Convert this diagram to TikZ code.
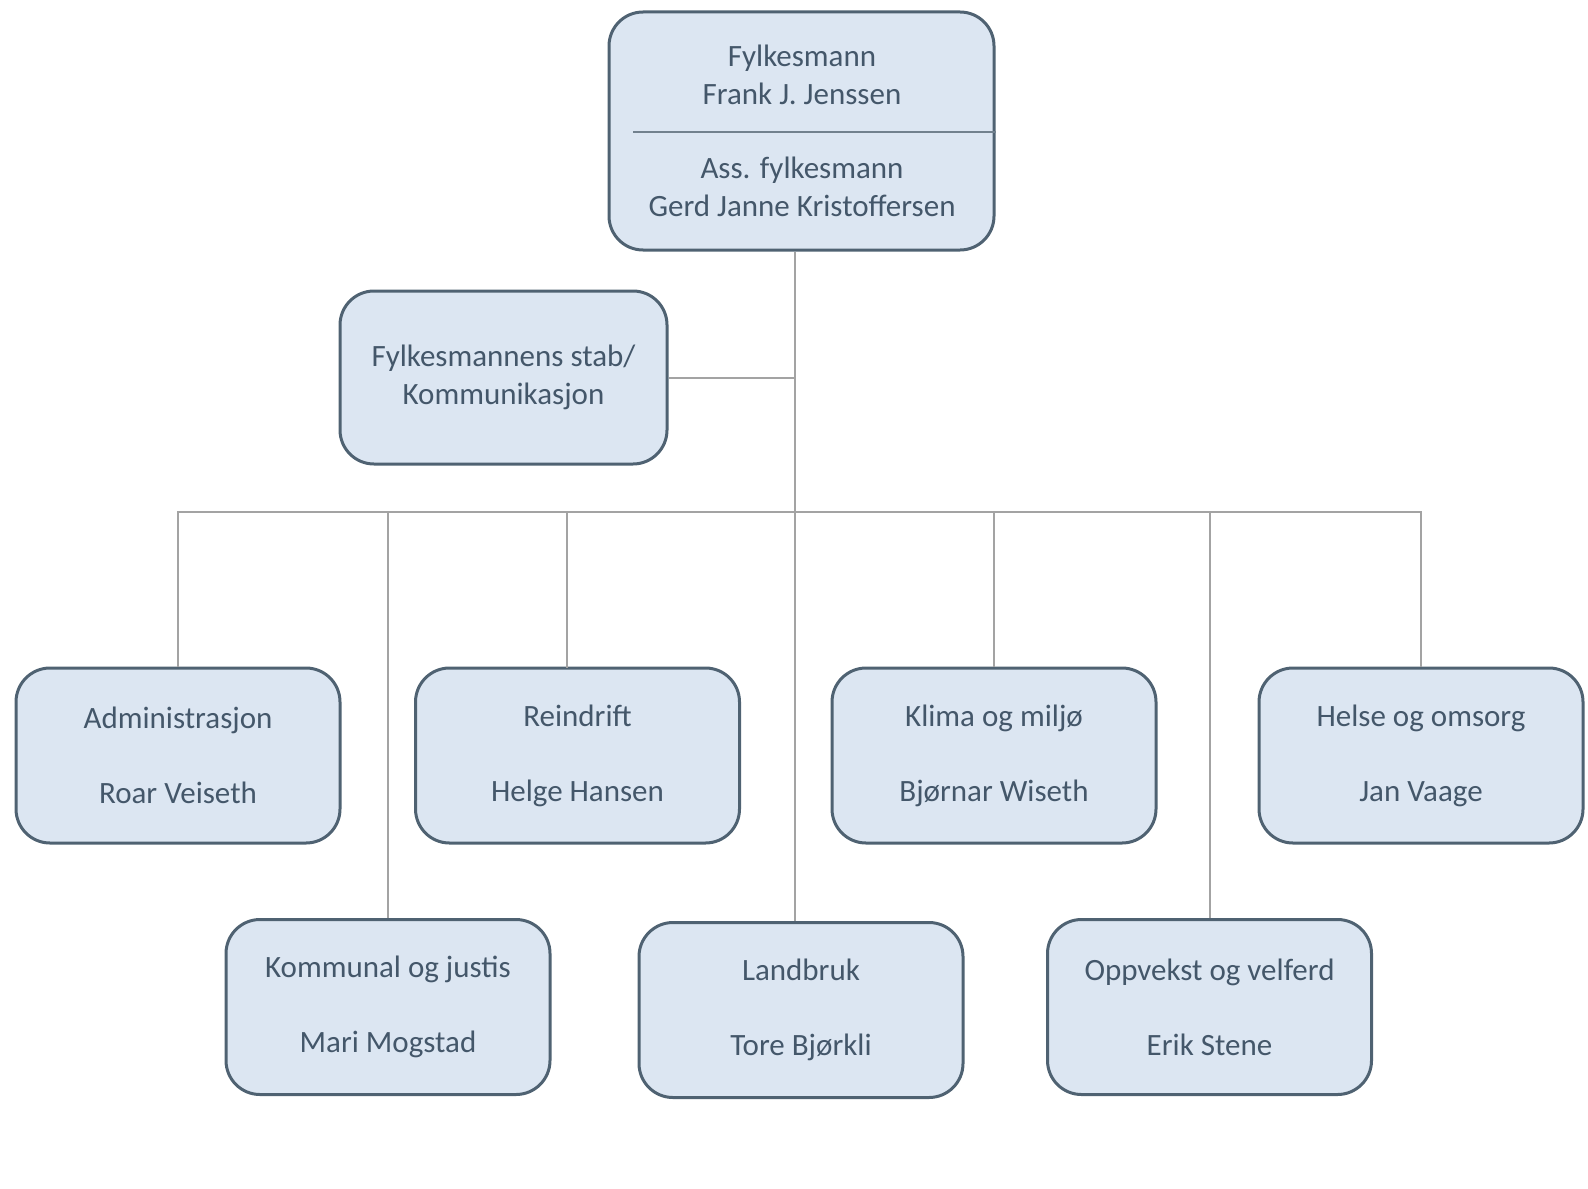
\documentclass[tikz,border=0pt]{standalone}
\usepackage{fontspec}
\setmainfont{Carlito}
\definecolor{boxfill}{HTML}{DCE6F2}
\definecolor{boxline}{HTML}{4F6272}
\definecolor{boxtext}{HTML}{44576A}
\definecolor{linkgray}{HTML}{A3A3A3}
\begin{document}
\begin{tikzpicture}[x=0.5pt,y=-0.5pt,
    unit/.style={draw=boxline,line width=1.5pt,fill=boxfill,rounded corners=17pt,
      text=boxtext,align=center,inner sep=0pt,
      font=\fontsize{15.5}{18.75}\selectfont,minimum width=162pt,minimum height=87.5pt},
    plain/.style={text=boxtext,align=center,inner sep=0pt,font=\fontsize{15.5}{18.75}\selectfont},
    link/.style={draw=linkgray,line width=1pt},
    divider/.style={draw=boxline!80,line width=0.8pt}]
  \useasboundingbox (0,0) rectangle (1588,1188);
  \coordinate (bus) at (795,512);
  \coordinate (rdtop) at (567,668);
  \coordinate (divL) at (633,132);
  \node[unit,minimum width=192.5pt,minimum height=119pt] (fm) at (801.5,131) {};
  \node[plain] (fmname) at (802,75) {Fylkesmann\\Frank J. Jenssen};
  \node[plain] (assname) at (802,187) {Ass. fylkesmann\\Gerd Janne Kristoffersen};
  \node[unit,minimum width=163.5pt,minimum height=86.5pt] (stab) at (503.5,377.5) {Fylkesmannens stab/\\Kommunikasjon};
  \node[unit] (adm) at (178,755.5) {Administrasjon\\[18.75pt]Roar Veiseth};
  \node[unit] (rd) at (577.5,755.5) {Reindrift\\[18.75pt]Helge Hansen};
  \node[unit] (km) at (994,755.5) {Klima og milj\o\\[18.75pt]Bj\o rnar Wiseth};
  \node[unit] (hs) at (1421,755.5) {Helse og omsorg\\[18.75pt]Jan Vaage};
  \node[unit] (kj) at (388,1007) {Kommunal og justis\\[18.75pt]Mari Mogstad};
  \node[unit] (lb) at (801,1010) {Landbruk\\[18.75pt]Tore Bj\o rkli};
  \node[unit] (ov) at (1209.5,1007) {Oppvekst og velferd\\[18.75pt]Erik Stene};
  \draw[divider] (divL) -- (divL -| fm.east);
  \draw[link] (bus |- fm.south) -- (bus |- lb.north);
  \draw[link] (stab.east) -- (stab.east -| bus);
  \draw[link] (adm.north) -- (adm.north |- bus) -- (hs.north |- bus) -- (hs.north);
  \draw[link] (rdtop) -- (rdtop |- bus);
  \draw[link] (km.north) -- (km.north |- bus);
  \draw[link] (kj.north) -- (kj.north |- bus);
  \draw[link] (ov.north) -- (ov.north |- bus);
\end{tikzpicture}
\end{document}
